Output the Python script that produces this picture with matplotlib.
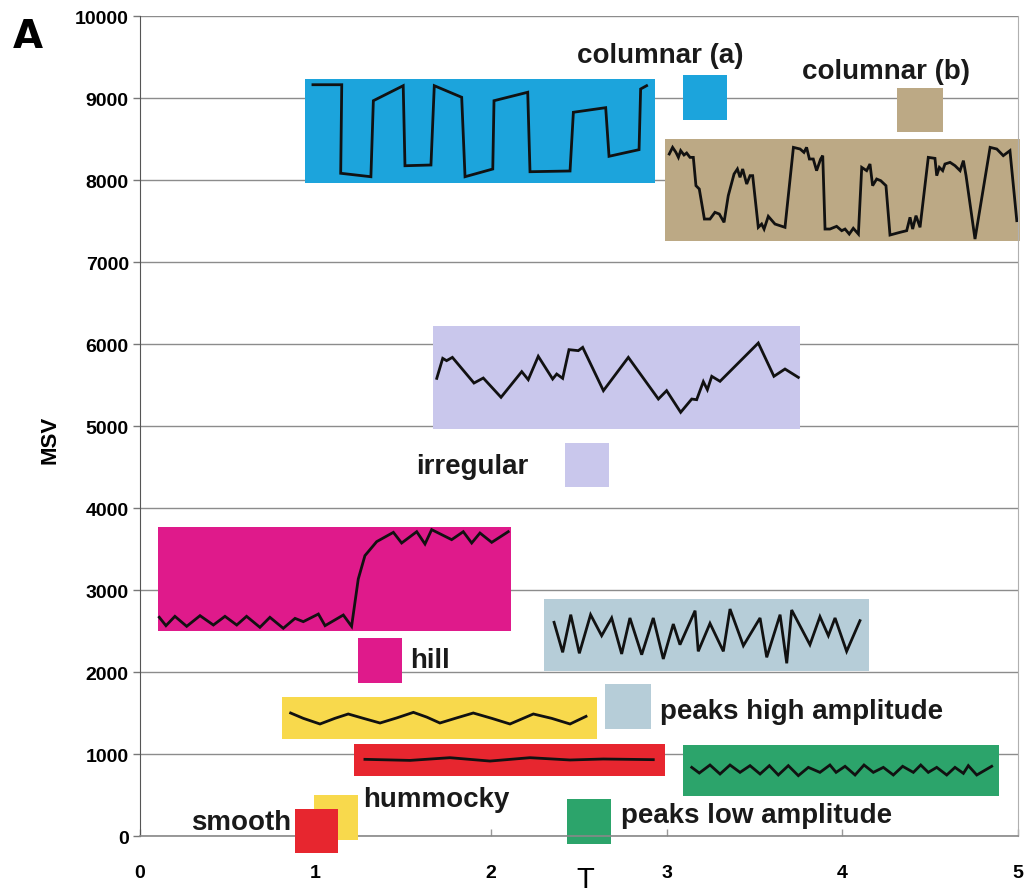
import matplotlib
matplotlib.use('Agg')
import matplotlib.pyplot as plt
from matplotlib.patches import Rectangle

plt.rcParams['font.family'] = ['Liberation Sans', 'DejaVu Sans']

# traces (T, MSV)
col_a_t = [0.985, 1.149, 1.143, 1.315, 1.329, 1.499, 1.509, 1.657, 1.676, 1.832, 1.851, 2.009,
           2.016, 2.208, 2.221, 2.449, 2.468, 2.652, 2.671, 2.842, 2.851, 2.885]
col_a_v = [9162, 9162, 8082, 8040, 8967, 9150, 8174, 8183, 9150, 9009, 8040, 8134,
           8967, 9070, 8101, 8110, 8826, 8882, 8289, 8370, 9110, 9150]

col_b_t = [3.014, 3.033, 3.052, 3.066, 3.079, 3.098, 3.113, 3.132, 3.151, 3.166, 3.185, 3.214,
           3.246, 3.274, 3.299, 3.326, 3.350, 3.383, 3.402, 3.417, 3.432, 3.455, 3.474, 3.489,
           3.521, 3.540, 3.554, 3.578, 3.616, 3.673, 3.721, 3.759, 3.781, 3.796, 3.812, 3.834,
           3.853, 3.876, 3.888, 3.901, 3.929, 3.967, 3.996, 4.015, 4.039, 4.062, 4.091, 4.110,
           4.138, 4.157, 4.172, 4.195, 4.218, 4.248, 4.271, 4.328, 4.366, 4.385, 4.400, 4.419,
           4.442, 4.489, 4.527, 4.537, 4.552, 4.571, 4.584, 4.613, 4.641, 4.670, 4.689, 4.704,
           4.755, 4.841, 4.879, 4.916, 4.954, 4.993]
col_b_v = [8317, 8398, 8337, 8276, 8358, 8305, 8329, 8276, 8276, 7931, 7890, 7524,
           7524, 7606, 7585, 7484, 7809, 8073, 8134, 8033, 8134, 7951, 8053, 8053,
           7423, 7463, 7402, 7557, 7463, 7423, 8398, 8378, 8337, 8398, 8256, 8256,
           8114, 8256, 8297, 7402, 7402, 7435, 7382, 7402, 7341, 7411, 7341, 8154,
           8114, 8195, 7931, 8012, 7992, 7931, 7329, 7362, 7382, 7545, 7402, 7565,
           7423, 8276, 8264, 8053, 8154, 8114, 8195, 8215, 8175, 8114, 8236, 8053,
           7280, 8398, 8378, 8297, 8358, 7504]

irr_t = [1.690, 1.724, 1.746, 1.779, 1.902, 1.955, 2.056, 2.174, 2.211, 2.268, 2.350, 2.373,
         2.407, 2.443, 2.496, 2.521, 2.639, 2.781, 2.952, 2.999, 3.079, 3.142, 3.170, 3.208,
         3.231, 3.256, 3.303, 3.521, 3.610, 3.673, 3.749]
irr_v = [5581, 5825, 5797, 5837, 5524, 5585, 5350, 5663, 5565, 5850, 5573, 5634,
         5581, 5931, 5919, 5959, 5431, 5837, 5329, 5431, 5167, 5329, 5321, 5541,
         5443, 5606, 5545, 6012, 5606, 5695, 5593]

hill_t = [0.110, 0.148, 0.199, 0.266, 0.342, 0.418, 0.484, 0.551, 0.607, 0.683, 0.740, 0.816,
          0.883, 0.930, 1.016, 1.054, 1.158, 1.205, 1.243, 1.281, 1.348, 1.443, 1.490, 1.576,
          1.623, 1.661, 1.775, 1.841, 1.889, 1.936, 2.003, 2.097]
hill_v = [2667, 2565, 2679, 2557, 2687, 2573, 2679, 2573, 2679, 2545, 2667, 2533,
          2654, 2614, 2707, 2565, 2695, 2557, 3134, 3419, 3590, 3703, 3573, 3711,
          3561, 3736, 3614, 3711, 3573, 3695, 3581, 3711]

phigh_t = [2.358, 2.407, 2.453, 2.502, 2.566, 2.629, 2.686, 2.743, 2.790, 2.857, 2.923, 2.980,
           3.037, 3.075, 3.161, 3.179, 3.246, 3.322, 3.360, 3.436, 3.531, 3.569, 3.645, 3.683,
           3.711, 3.815, 3.872, 3.920, 3.958, 4.024, 4.100]
phigh_v = [2606, 2240, 2699, 2228, 2699, 2443, 2659, 2220, 2659, 2211, 2659, 2159,
           2585, 2333, 2748, 2252, 2593, 2252, 2768, 2321, 2659, 2179, 2699, 2106,
           2756, 2333, 2675, 2443, 2659, 2252, 2626]

humm_t = [0.858, 0.930, 1.025, 1.110, 1.186, 1.272, 1.367, 1.462, 1.557, 1.633, 1.708, 1.803,
          1.898, 2.003, 2.107, 2.240, 2.344, 2.449, 2.540]
humm_v = [1500, 1435, 1366, 1435, 1488, 1435, 1378, 1440, 1508, 1450, 1378, 1440,
          1500, 1435, 1366, 1488, 1435, 1366, 1459]

smooth_t = [1.281, 1.538, 1.765, 1.993, 2.221, 2.449, 2.638, 2.923]
smooth_v = [935, 922, 955, 914, 955, 927, 939, 931]

plow_t = [3.142, 3.185, 3.246, 3.303, 3.360, 3.417, 3.474, 3.531, 3.584, 3.635, 3.692, 3.749,
          3.806, 3.872, 3.929, 3.964, 4.015, 4.072, 4.123, 4.176, 4.233, 4.290, 4.343, 4.404,
          4.446, 4.489, 4.537, 4.594, 4.641, 4.689, 4.717, 4.765, 4.850]
plow_v = [837, 768, 866, 756, 866, 776, 858, 756, 858, 744, 858, 736,
          837, 776, 866, 776, 850, 744, 866, 776, 837, 744, 850, 776,
          866, 776, 837, 744, 837, 764, 858, 744, 850]

# background panels: [t0, t1, v0, v1]
panel_col_a = [0.94, 2.93, 7960, 9230]
panel_col_b = [2.99, 5.01, 7256, 8500]
panel_irr = [1.67, 3.76, 4963, 6220]
panel_hill = [0.10, 2.11, 2500, 3768]
panel_phigh = [2.30, 4.15, 2012, 2890]
panel_humm = [0.81, 2.60, 1183, 1695]
panel_smooth = [1.22, 2.99, 732, 1122]
panel_plow = [3.09, 4.89, 488, 1110]

# legend swatches
sw_col_a = [3.09, 3.34, 8730, 9280]
sw_col_b = [4.31, 4.57, 8585, 9120]
sw_irr = [2.42, 2.67, 4256, 4790]
sw_hill = [1.24, 1.49, 1866, 2415]
sw_phigh = [2.65, 2.91, 1305, 1854]
sw_humm = [0.99, 1.24, -50, 500]
sw_smooth = [0.88, 1.13, -207, 329]
sw_plow = [2.43, 2.68, -98, 451]

c_blue = '#1ca4dc'
c_tan = '#bca985'
c_lav = '#c9c7ec'
c_mag = '#df1a8b'
c_gray = '#b6cdd8'
c_yel = '#f8d94c'
c_red = '#e7262f'
c_grn = '#2ca46b'


def box(ax, b, colour, z=2):
    ax.add_patch(Rectangle((b[0], b[2]), b[1] - b[0], b[3] - b[2], facecolor=colour,
                           edgecolor='none', zorder=z, clip_on=False))


fig = plt.figure(figsize=(10.33, 8.95), dpi=100)
ax = fig.add_axes([0.1355, 0.0648, 0.850, 0.9162])
ax.set_xlim(0, 5)
ax.set_ylim(0, 10000)
ax.set_yticks(range(0, 10001, 1000))
ax.set_xticks(range(0, 6))
ax.grid(axis='y', color='#8c8c8c', linewidth=1.0, zorder=0)
ax.spines['top'].set_visible(False)
ax.spines['right'].set_color('#b0b0b0')
ax.spines['left'].set_color('#555555')
ax.spines['bottom'].set_color('#888888')
ax.spines['bottom'].set_linewidth(1.2)
ax.tick_params(axis='y', length=5, width=1, color='#777777', pad=3, labelsize=14)
ax.tick_params(axis='x', length=5, width=1, direction='in', color='#999999', pad=20, labelsize=14)
for lab in ax.get_xticklabels() + ax.get_yticklabels():
    lab.set_fontweight('bold')

box(ax, panel_col_a, c_blue)
box(ax, panel_col_b, c_tan)
box(ax, panel_irr, c_lav)
box(ax, panel_hill, c_mag)
box(ax, panel_phigh, c_gray)
box(ax, panel_humm, c_yel)
box(ax, panel_smooth, c_red)
box(ax, panel_plow, c_grn)

box(ax, sw_col_a, c_blue)
box(ax, sw_col_b, c_tan)
box(ax, sw_irr, c_lav)
box(ax, sw_hill, c_mag)
box(ax, sw_phigh, c_gray)
box(ax, sw_humm, c_yel, z=3)
box(ax, sw_smooth, c_red, z=4)
box(ax, sw_plow, c_grn)

lc = '#111111'
for t, v in [(col_a_t, col_a_v), (col_b_t, col_b_v), (irr_t, irr_v), (hill_t, hill_v),
             (phigh_t, phigh_v), (humm_t, humm_v), (smooth_t, smooth_v), (plow_t, plow_v)]:
    ax.plot(t, v, color=lc, linewidth=2.0, zorder=5, solid_joinstyle='miter')

tk = dict(fontsize=20, fontweight='bold', color='#1a1a1a', va='center', zorder=6)
ax.text(2.96, 9530, 'columnar (a)', ha='center', **tk)
ax.text(4.25, 9330, 'columnar (b)', ha='center', **tk)
ax.text(1.57, 4512, 'irregular', ha='left', **tk)
ax.text(1.54, 2146, 'hill', ha='left', **tk)
ax.text(2.96, 1524, 'peaks high amplitude', ha='left', **tk)
ax.text(1.27, 451, 'hummocky', ha='left', clip_on=False, **tk)
ax.text(0.86, 170, 'smooth', ha='right', **tk)
ax.text(2.74, 256, 'peaks low amplitude', ha='left', **tk)

fig.text(50 / 1033, 1 - 440 / 895, 'MSV', rotation=90, ha='center', va='center',
         fontsize=16, fontweight='bold')
fig.text(585 / 1033, 1 - 880 / 895, 'T', ha='center', va='center', fontsize=21)
fig.text(28 / 1033, 1 - 37 / 895, 'A', ha='center', va='center', fontsize=28,
         fontweight='heavy', family='DejaVu Sans')

fig.savefig('out.png', dpi=100)
